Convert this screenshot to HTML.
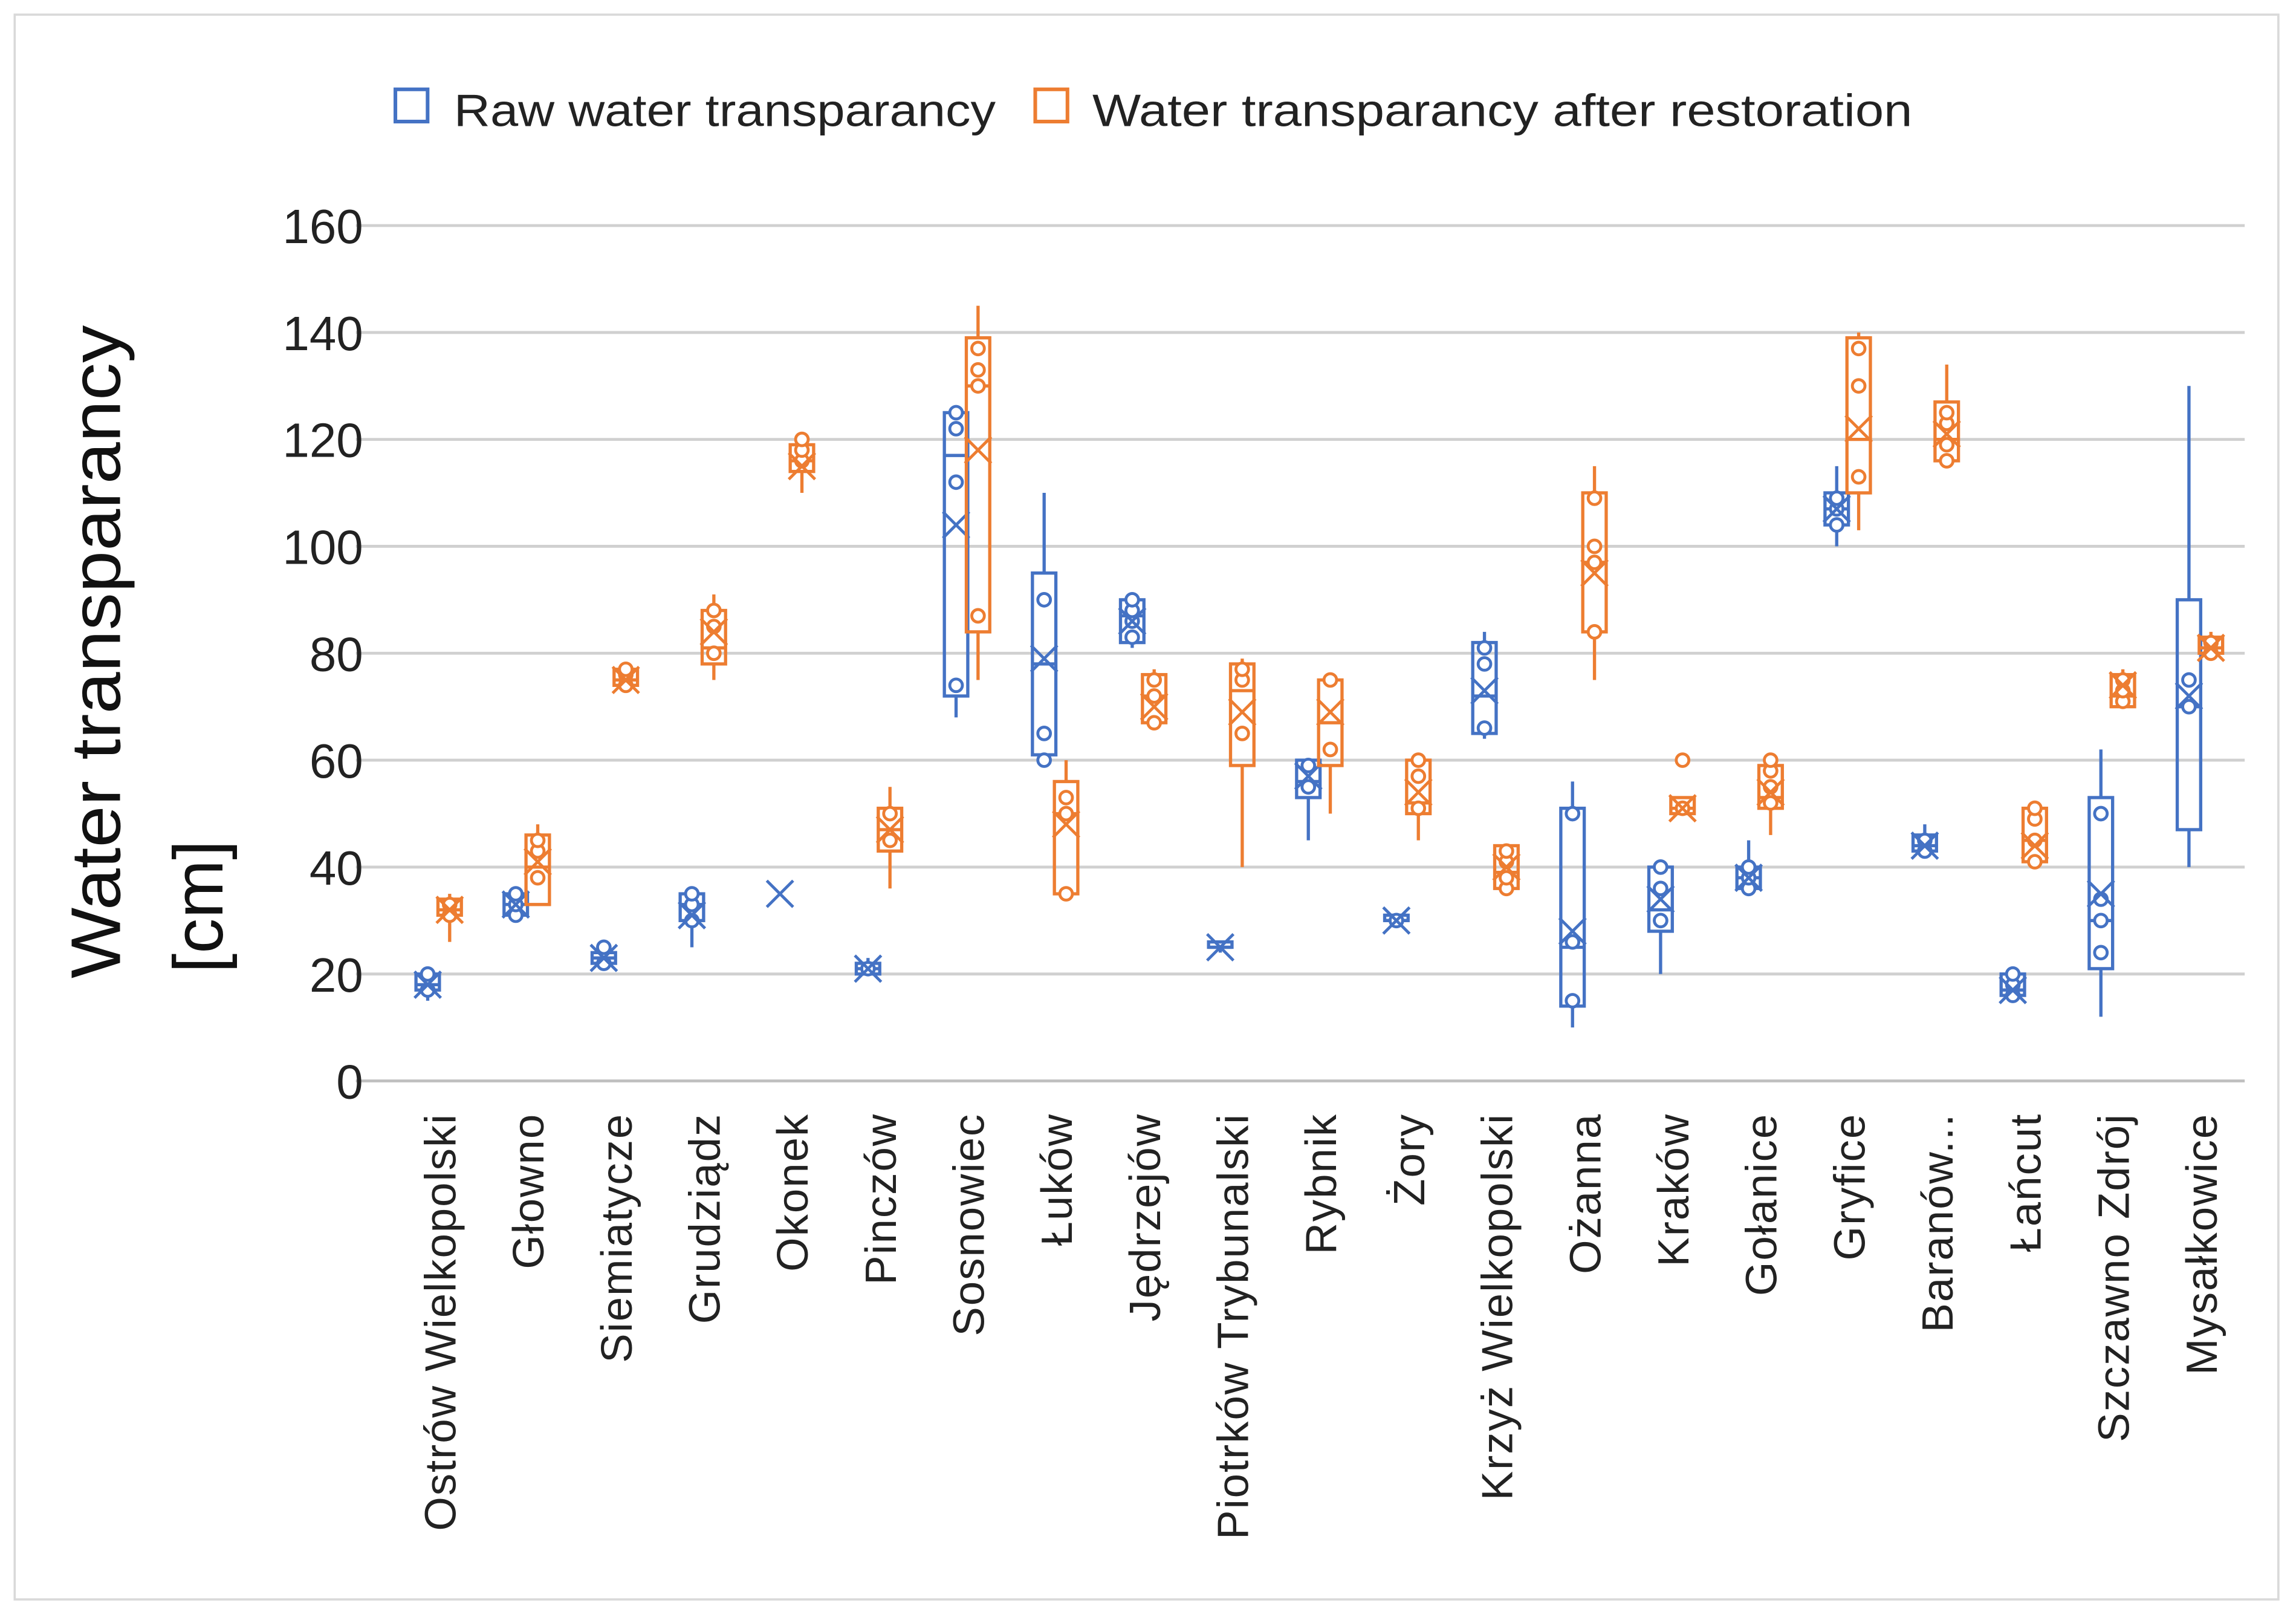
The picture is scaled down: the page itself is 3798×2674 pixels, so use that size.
<!DOCTYPE html>
<html><head><meta charset="utf-8"><style>
html,body{margin:0;padding:0;background:#fff;}
svg{display:block;font-family:"Liberation Sans","DejaVu Sans",sans-serif;}
</style></head><body>
<svg id="chart" width="3798" height="2674" viewBox="0 0 1568 1104" xmlns="http://www.w3.org/2000/svg">
<rect x="10" y="10" width="1546" height="1082" fill="#fff" stroke="#d9d9d9" stroke-width="1.5"/>
<g>
<rect x="270" y="61" width="22" height="22" fill="none" stroke="#4472c4" stroke-width="2.5"/>
<text x="310" y="86" font-size="31" fill="#222" textLength="370" lengthAdjust="spacingAndGlyphs">Raw water transparancy</text>
<rect x="707" y="61" width="22" height="22" fill="none" stroke="#ed7d31" stroke-width="2.5"/>
<text x="746" y="86" font-size="31" fill="#222" textLength="560" lengthAdjust="spacingAndGlyphs">Water transparancy after restoration</text>
</g>
<g id="grid"></g>
<g id="marks"></g>
<g id="xlabels"></g>
<text transform="translate(82,445) rotate(-90)" text-anchor="middle" font-size="48" fill="#111" textLength="446" lengthAdjust="spacingAndGlyphs">Water transparancy</text>
<text transform="translate(152,619) rotate(-90)" text-anchor="middle" font-size="48" fill="#111">[cm]</text>
</svg>
<script>
const categories=["Ostrów Wielkopolski","Głowno","Siemiatycze","Grudziądz","Okonek","Pinczów","Sosnowiec","Łuków","Jędrzejów","Piotrków Trybunalski","Rybnik","Żory","Krzyż Wielkopolski","Ożanna","Kraków","Gołanice","Gryfice","Baranów...","Łańcut","Szczawno Zdrój","Mysałkowice"];
const yTicks=[0,20,40,60,80,100,120,140,160];
const blueMin=[15,30,21,25,null,20,68,60,81,24,45,29,64,10,20,35,100,42,15,12,40];
const blueQ1=[17,31,22,30,null,20,72,61,82,25,53,30,65,14,28,36,104,43,16,21,47];
const blueMed=[18,33,23,33,null,21,117,78,87,25,56,30,72,25,32,38,107,44,17,30,70];
const blueQ3=[20,35,24,35,null,22,125,95,90,26,60,31,82,51,40,40,110,46,20,53,90];
const blueMax=[21,36,25,35,null,23,125,110,90,26,60,31,84,56,40,45,115,48,21,62,130];
const blueMean=[18,33,23,31,35,21,104,79,86,25,57,30,73,28,34,38,107,44,17,35,72];
const bluePts=[[17,20],[31,33,35],[22,25],[30,33,35],[],[21],[74,112,122,125],[60,65,90],[83,86,88,90],[],[55,59],[30],[66,78,81],[15,26,50],[30,36,40],[36,38,40],[104,107,109],[43,45],[16,18,20],[24,30,34,50],[70,75]];
const orMin=[26,33,73,75,110,36,75,35,66,40,50,45,35,75,50,46,103,115,40,70,79];
const orQ1=[31,33,74,78,114,43,84,35,67,59,59,50,36,84,50,51,110,116,41,70,80];
const orMed=[32,40,75,81,116,47,130,50,72,73,67,52,39,97,51,53,120,120,45,72,81];
const orQ3=[34,46,77,88,119,51,139,56,76,78,75,60,44,110,53,59,139,127,51,76,83];
const orMax=[35,48,78,91,120,55,145,60,77,79,75,60,44,115,53,60,140,134,52,77,84];
const orMean=[32,41,75,84,115,47,118,48,70,69,69,54,40,95,51,54,122,121,44,74,81];
const orPts=[[31,33],[38,43,45],[74,76,77],[80,85,88],[116,118,120],[45,50],[87,130,133,137],[35,50,53],[67,72,75],[65,75,77],[62,75],[51,57,60],[36,38,41,43],[84,97,100,109],[51,60],[52,55,58,60],[113,130,137],[116,119,123,125],[41,45,49,51],[71,73,75],[80,82]];

const NS="http://www.w3.org/2000/svg";
const y0=738,y1=154,vmax=160,xL=243,xR=1533,cStart=270,cW=(xR-cStart)/categories.length;
const yS=v=>y0-(v/vmax)*(y0-y1);
const xC=i=>cStart+cW*(i+0.5);
function mk(tag,attrs,parent){const e=document.createElementNS(NS,tag);for(const k in attrs)e.setAttribute(k,attrs[k]);parent.appendChild(e);return e;}
const grid=document.getElementById('grid'),marks=document.getElementById('marks'),xl=document.getElementById('xlabels');
yTicks.forEach(t=>{
  const l=mk('line',{x1:xL,x2:xR,y1:yS(t),y2:yS(t),stroke:t===0?'#bfbfbf':'#d0d0d0','stroke-width':2},grid);
  
  
  const tx=mk('text',{x:248,y:yS(t)+12,'text-anchor':'end','font-size':33,fill:'#222'},grid);
  tx.textContent=t;
  
  
});
function drawSeries(i,cx,col,mn,q1,md,q3,mx,mean,pts,nm){
  const g=mk('g',{},marks);
  
  
  const w=8,sw=2.2;
  if(mn!==null){
    mk('line',{x1:cx,x2:cx,y1:yS(mx),y2:yS(q3),stroke:col,'stroke-width':sw},g);
    mk('line',{x1:cx,x2:cx,y1:yS(q1),y2:yS(mn),stroke:col,'stroke-width':sw},g);
    mk('rect',{x:cx-w,y:yS(q3),width:2*w,height:Math.max(1,yS(q1)-yS(q3)),fill:'none',stroke:col,'stroke-width':sw},g);
    mk('line',{x1:cx-w,x2:cx+w,y1:yS(md),y2:yS(md),stroke:col,'stroke-width':sw},g);
  }
  pts.forEach(p=>mk('circle',{cx:cx,cy:yS(p),r:4.3,fill:'#fff',stroke:col,'stroke-width':2},g));
  if(mean!==null){const m=yS(mean),s=9;
    mk('path',{d:`M${cx-s} ${m-s}L${cx+s} ${m+s}M${cx-s} ${m+s}L${cx+s} ${m-s}`,stroke:col,'stroke-width':2,fill:'none'},g);}
}
categories.forEach((c,i)=>{
  const cx=xC(i);
  drawSeries(i,cx-8,'#4472c4',blueMin[i],blueQ1[i],blueMed[i],blueQ3[i],blueMax[i],blueMean[i],bluePts[i],'raw');
  drawSeries(i,cx+7,'#ed7d31',orMin[i],orQ1[i],orMed[i],orQ3[i],orMax[i],orMean[i],orPts[i],'after');
  const t=mk('text',{transform:`translate(${cx+11},760) rotate(-90)`,'text-anchor':'end','font-size':30,'letter-spacing':'0.8',fill:'#222'},xl);
  t.textContent=c;
  
  
});
</script>
</body></html>
